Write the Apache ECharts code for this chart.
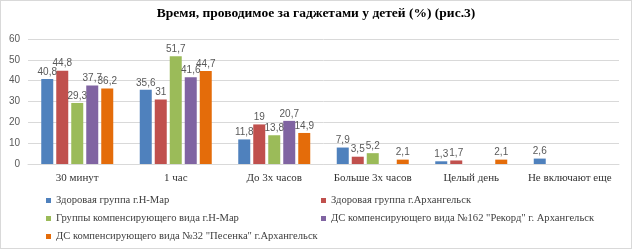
<!DOCTYPE html>
<html>
<head>
<meta charset="utf-8">
<script src="https://cdn.jsdelivr.net/npm/echarts@6/dist/echarts.min.js"></script>
<style>
html,body{margin:0;padding:0;background:#fff;}
#chart{width:630px;height:247px;border:1px solid #d9d9d9;}
</style>
</head>
<body>
<div id="chart"></div>
<script>
var categories = ["30 минут", "1 час", "До 3х часов", "Больше 3х часов", "Целый день", "Не включают еще"];
var seriesNames = [
	"Здоровая группа г.Н-Мар",
	"Здоровая группа г.Архангельск",
	"Группы компенсирующего вида г.Н-Мар",
	"ДС компенсирующего вида №162 \"Рекорд\" г. Архангельск",
	"ДС компенсирующего вида №32 \"Песенка\" г.Архангельск"
];
var zdorNMar = [40.8, 35.6, 11.8, 7.9, 1.3, 2.6];
var zdorArh = [44.8, 31, 19, 3.5, 1.7, null];
var kompNMar = [29.3, 51.7, 13.8, 5.2, null, null];
var rekord = [37.7, 41.6, 20.7, null, null, null];
var pesenka = [36.2, 44.7, 14.9, 2.1, 2.1, null];
var yTicks = [0, 10, 20, 30, 40, 50, 60];
var colors = ["#4F81BD", "#C0504D", "#9BBB59", "#8064A2", "#E46C0A"];

var values = [zdorNMar, zdorArh, kompNMar, rekord, pesenka];
var series = [];
for (var i = 0; i < values.length; i++) {
	series.push({
		name : seriesNames[i],
		type : "bar",
		data : values[i],
		barWidth : 12,
		barGap : "25%",
		itemStyle : { color : colors[i] },
		label : {
			show : true,
			position : "top",
			distance : 2,
			color : "#595959",
			fontSize : 10,
			fontFamily : "Liberation Sans",
			formatter : function(p) {
				return String(p.value).replace(".", ",");
			}
		}
	});
}

// позиции легенды: две колонки
var legendPos = [
	{ left : 40, top : 189 },
	{ left : 315, top : 189 },
	{ left : 40, top : 207 },
	{ left : 315, top : 207 },
	{ left : 40, top : 225 }
];
var legends = [];
for (var j = 0; j < seriesNames.length; j++) {
	legends.push({
		data : [seriesNames[j]],
		left : legendPos[j].left,
		top : legendPos[j].top,
		itemWidth : 5,
		itemHeight : 5,
		itemGap : 2,
		icon : "rect",
		textStyle : { fontFamily : "Liberation Serif", fontSize : 10.6, color : "#404040" }
	});
}

var myChart = echarts.init(document.getElementById("chart"));
var option = {
	animation : false,
	title : {
		text : "Время, проводимое за гаджетами у детей (%) (рис.3)",
		left : "center",
		top : 1,
		textStyle : { fontFamily : "Liberation Serif", fontWeight : "bold", fontSize : 13.5, color : "#000" }
	},
	legend : legends,
	grid : { left : 27, right : 12, top : 38, bottom : 84, containLabel : false },
	xAxis : {
		type : "category",
		data : categories,
		axisTick : { show : false },
		axisLine : { lineStyle : { color : "#d9d9d9" } },
		axisLabel : { interval : 0, fontFamily : "Liberation Serif", fontSize : 11, color : "#333", margin : 9 }
	},
	yAxis : {
		type : "value",
		min : yTicks[0],
		max : yTicks[yTicks.length - 1],
		interval : 10,
		axisLine : { show : false },
		axisTick : { show : false },
		splitLine : { lineStyle : { color : "#d9d9d9" } },
		axisLabel : { fontFamily : "Liberation Sans", fontSize : 10, color : "#595959", margin : 8 }
	},
	series : series
};
myChart.setOption(option);
</script>
</body>
</html>
